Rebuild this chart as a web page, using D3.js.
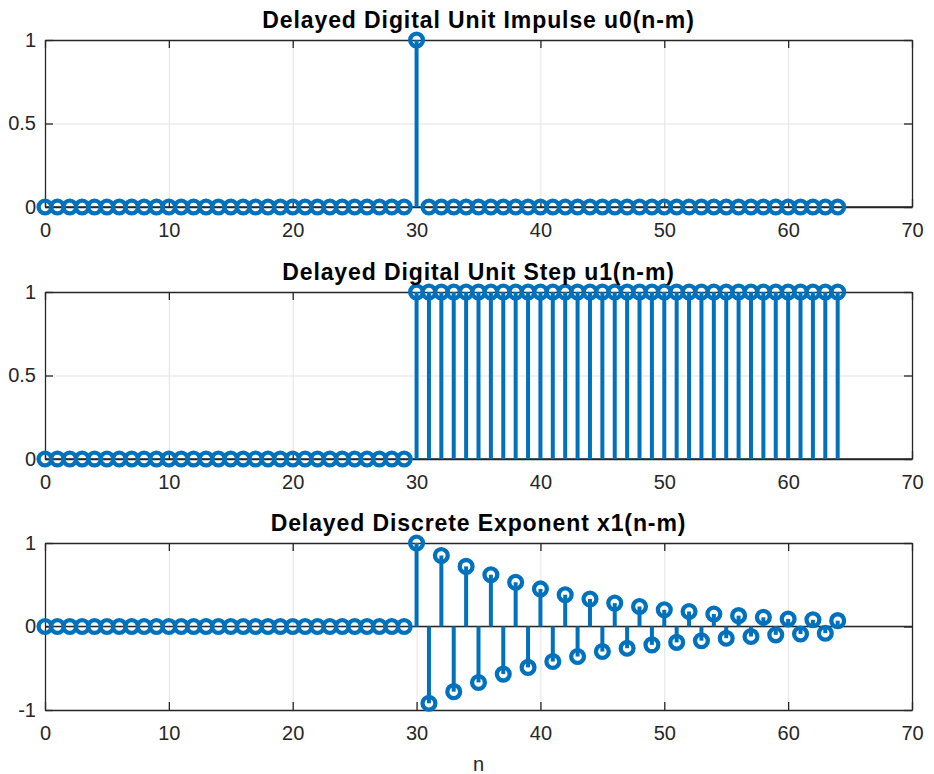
<!DOCTYPE html>
<html>
<head>
<meta charset="utf-8">
<script src="https://cdn.jsdelivr.net/npm/d3@7"></script>
<style>
body { margin: 0; background: #fff; }
text { font-family: "Liberation Sans", Arial, sans-serif; }
</style>
</head>
<body>
<svg width="934" height="774"></svg>
<script>
/*****************************************
*   Data
*****************************************/

const n_values = [0,1,2,3,4,5,6,7,8,9,10,11,12,13,14,15,16,17,18,19,20,21,22,23,24,25,26,27,28,29,
    30,31,32,33,34,35,36,37,38,39,40,41,42,43,44,45,46,47,48,49,50,51,52,53,54,55,56,57,58,59,60,61,62,63,64];

const impulse = [0,0,0,0,0,0,0,0,0,0,0,0,0,0,0,0,0,0,0,0,0,0,0,0,0,0,0,0,0,0,
    1,0,0,0,0,0,0,0,0,0,0,0,0,0,0,0,0,0,0,0,0,0,0,0,0,0,0,0,0,0,0,0,0,0,0];

const step = [0,0,0,0,0,0,0,0,0,0,0,0,0,0,0,0,0,0,0,0,0,0,0,0,0,0,0,0,0,0,
    1,1,1,1,1,1,1,1,1,1,1,1,1,1,1,1,1,1,1,1,1,1,1,1,1,1,1,1,1,1,1,1,1,1,1];

const exponent = [0,0,0,0,0,0,0,0,0,0,0,0,0,0,0,0,0,0,0,0,0,0,0,0,0,0,0,0,0,0,
    1, -0.92, 0.85, -0.78, 0.72, -0.67, 0.62, -0.57, 0.53, -0.49, 0.45, -0.42, 0.38, -0.36,
    0.33, -0.30, 0.28, -0.26, 0.24, -0.22, 0.20, -0.19, 0.18, -0.17, 0.15, -0.14, 0.13,
    -0.12, 0.11, -0.10, 0.09, -0.09, 0.08, -0.08, 0.07];

const titles = ['Delayed Digital Unit Impulse u0(n-m)',
                'Delayed Digital Unit Step u1(n-m)',
                'Delayed Discrete Exponent x1(n-m)'];

const x_ticks = [0, 10, 20, 30, 40, 50, 60, 70];
const y_ticks_01 = [0, 0.5, 1];
const y_ticks_11 = [-1, 0, 1];

/*****************************************
*   Layout
*****************************************/

const LEFT = 45;
const RIGHT = 912;
const PANEL_TOPS = [40, 292, 543];
const PANEL_HEIGHT = 167;
const BLUE = '#0072BD';
const AXIS_COLOR = '#262626';
const GRID_COLOR = '#e3e3e3';

var svg = d3.select('svg');

var xScale = d3.scaleLinear()
    .domain([0, 70])
    .range([LEFT, RIGHT]);

// MATLAB style labels: plain hyphen for negatives
var tickText = d => String(d);

var panels = [
    {title: titles[0], values: impulse, domain: [0, 1], ticks: y_ticks_01},
    {title: titles[1], values: step, domain: [0, 1], ticks: y_ticks_01},
    {title: titles[2], values: exponent, domain: [-1, 1], ticks: y_ticks_11}
];

panels.forEach(function(p, i) {
    draw_panel(p, PANEL_TOPS[i]);
});

// x label only under the last panel
svg.append('text')
    .attr('x', (LEFT + RIGHT) / 2)
    .attr('y', 771)
    .attr('text-anchor', 'middle')
    .attr('fill', AXIS_COLOR)
    .attr('font-size', 20)
    .text('n');

/*****************************************
*   Drawing
*****************************************/

function draw_panel(p, top) {
    var bottom = top + PANEL_HEIGHT;
    var yScale = d3.scaleLinear()
        .domain(p.domain)
        .range([bottom, top]);
    var g = svg.append('g');

    // grid
    g.append('g')
        .attr('transform', 'translate(0,' + bottom + ')')
        .call(d3.axisBottom(xScale).tickValues(x_ticks).tickSize(-PANEL_HEIGHT).tickFormat(''))
        .call(s => s.select('.domain').remove())
        .selectAll('line').attr('stroke', GRID_COLOR);
    g.append('g')
        .attr('transform', 'translate(' + LEFT + ',0)')
        .call(d3.axisLeft(yScale).tickValues(p.ticks).tickSize(-(RIGHT - LEFT)).tickFormat(''))
        .call(s => s.select('.domain').remove())
        .selectAll('line').attr('stroke', GRID_COLOR);

    // axes with inward ticks
    var bx = g.append('g')
        .attr('transform', 'translate(0,' + bottom + ')')
        .call(d3.axisBottom(xScale).tickValues(x_ticks).tickSize(-8).tickSizeOuter(0)
            .tickPadding(16).tickFormat(tickText));
    var tx = g.append('g')
        .attr('transform', 'translate(0,' + top + ')')
        .call(d3.axisTop(xScale).tickValues(x_ticks).tickSize(-8).tickSizeOuter(0).tickFormat(''));
    var ly = g.append('g')
        .attr('transform', 'translate(' + LEFT + ',0)')
        .call(d3.axisLeft(yScale).tickValues(p.ticks).tickSize(-8).tickSizeOuter(0)
            .tickPadding(9).tickFormat(tickText));
    var ry = g.append('g')
        .attr('transform', 'translate(' + RIGHT + ',0)')
        .call(d3.axisRight(yScale).tickValues(p.ticks).tickSize(-8).tickSizeOuter(0).tickFormat(''));
    [bx, tx, ly, ry].forEach(function(a) {
        a.selectAll('.domain').attr('stroke', AXIS_COLOR).attr('stroke-width', 1.3);
        a.selectAll('line').attr('stroke', AXIS_COLOR).attr('stroke-width', 1.3);
        a.selectAll('text')
            .attr('fill', AXIS_COLOR)
            .attr('font-size', 20)
            .attr('font-family', '"Liberation Sans", Arial, sans-serif');
    });

    // title
    svg.append('text')
        .attr('x', (LEFT + RIGHT) / 2)
        .attr('y', top - 12)
        .attr('text-anchor', 'middle')
        .attr('font-weight', 'bold')
        .attr('font-size', 23)
        .attr('letter-spacing', 0.9)
        .attr('fill', '#000')
        .text(p.title);

    // baseline of the stem plot
    g.append('line')
        .attr('x1', LEFT)
        .attr('x2', RIGHT)
        .attr('y1', yScale(0))
        .attr('y2', yScale(0))
        .attr('stroke', AXIS_COLOR)
        .attr('stroke-width', 1.3);

    var data = n_values.map((v, k) => ({n: v, y: p.values[k]}));

    g.selectAll('line.stem')
        .data(data.filter(d => d.y != 0))
        .enter()
          .append('line')
          .attr('class', 'stem')
          .attr('x1', d => xScale(d.n))
          .attr('x2', d => xScale(d.n))
          .attr('y1', yScale(0))
          .attr('y2', d => yScale(d.y))
          .attr('stroke', BLUE)
          .attr('stroke-width', 4);

    g.selectAll('circle')
        .data(data)
        .enter()
          .append('circle')
          .attr('cx', d => xScale(d.n))
          .attr('cy', d => yScale(d.y))
          .attr('r', 6.4)
          .attr('fill', 'none')
          .attr('stroke', BLUE)
          .attr('stroke-width', 4.3);
}
</script>
</body>
</html>
